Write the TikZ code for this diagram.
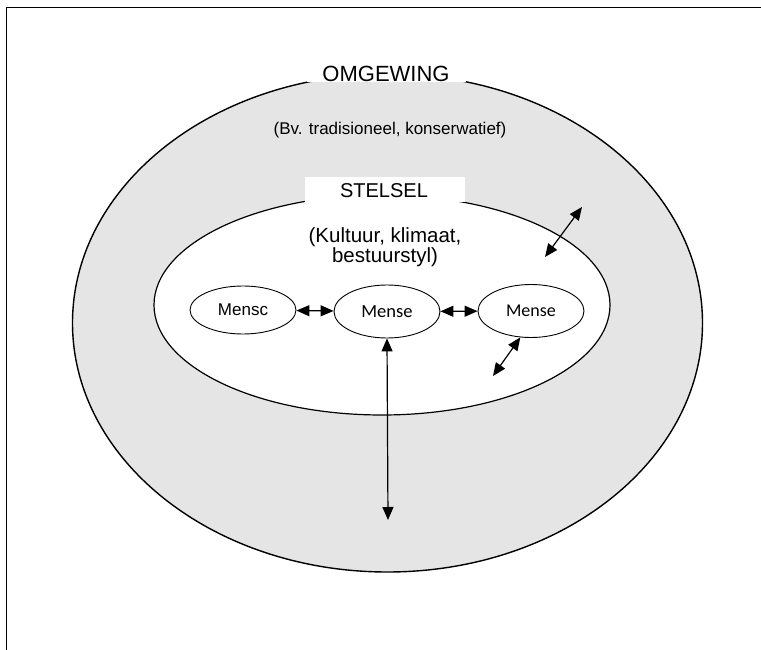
\documentclass[tikz,border=0pt]{standalone}
\usepackage{fontspec}
\setmainfont{Liberation Sans}
\newfontfamily\calfont{Carlito}
\usetikzlibrary{arrows.meta,shapes.geometric}

\tikzset{
  zone/.style={draw=black, ellipse, inner sep=0pt},
  person/.style={draw=black, ellipse, fill=white, line width=0.9pt, inner sep=0pt,
                 minimum width=106pt, minimum height=53pt},
  link/.style={line width=1.2pt,
               {Triangle[length=13pt,width=11pt]}-{Triangle[length=13pt,width=11pt]}},
  title/.style={fill=white, inner sep=0pt, font=\fontsize{22}{26}\selectfont},
  note/.style={align=center, inner sep=0pt}
}

\begin{document}
\begin{tikzpicture}[x=1pt,y=-1pt]
\useasboundingbox (0,0) rectangle (761,650);

% page frame (top and left edges)
\draw[line width=1pt] (761,8) -- (6,8) -- (6,650);

% environment and system
\node[zone, fill=black!10, line width=1.4pt, minimum width=630pt, minimum height=498pt]
  (omgewing) at (387.5,323) {};
\node[zone, fill=white, line width=1.2pt, minimum width=456pt, minimum height=220pt]
  (stelsel) at (382,305) {};

% headings on white strips that break the outlines
\fill[white] (307,56) rectangle (466,82);
\node[title] (omgtitle) at (386,74) {OMGEWING};
\fill[white] (305,177) rectangle (465,202);
\node[title, font=\fontsize{20}{24}\selectfont] (steltitle) at (384,191) {STELSEL};

\node[note, font=\fontsize{17}{20}\selectfont] (omgnote) at (390,130)
  {(Bv. tradisioneel, konserwatief)};
\node[note, font=\fontsize{20.5}{20}\selectfont] (stelnote) at (385,247)
  {(Kultuur, klimaat,\\bestuurstyl)};

% people
\node[person, minimum width=106pt, minimum height=48pt] (m1) at (243,310)
  {\fontsize{17}{20}\selectfont Mensc};
\node[person] (m2) at (387,311.5) {\calfont\fontsize{18.5}{20}\selectfont Mense};
\node[person] (m3) at (531,311) {\calfont\fontsize{18}{20}\selectfont Mense};

% free ends
\coordinate (down) at (388,520);
\coordinate (outA) at (493,376);
\coordinate (upA) at (582,207);
\coordinate (upB) at (545,257);

% interactions
\draw[link] (m1) -- (m2);
\draw[link] (m2) -- (m3);
\draw[link] (m2.south) -- (down);
\draw[link] (m3.248) -- (outA);
\draw[link] (upA) -- (upB);
\end{tikzpicture}
\end{document}
